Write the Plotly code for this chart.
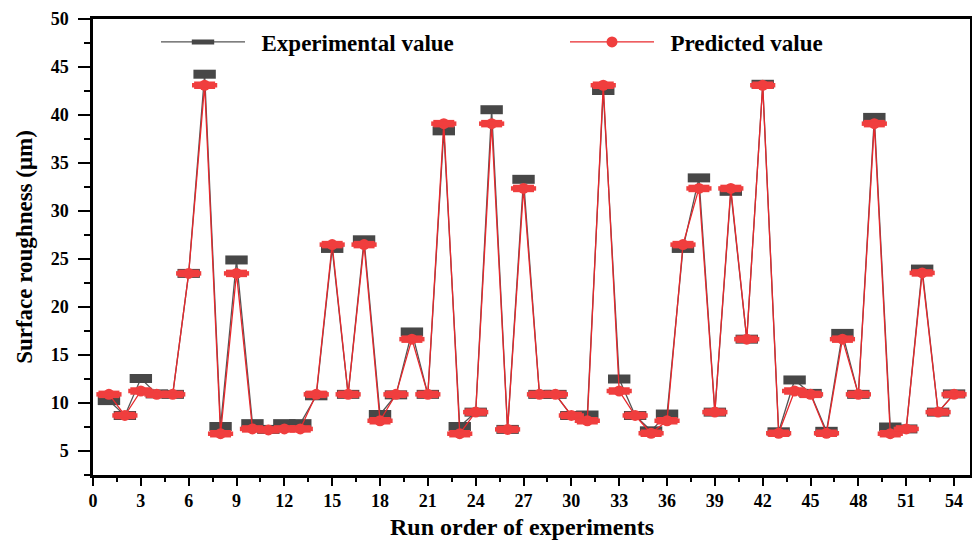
import plotly.graph_objects as go

run_order = list(range(1, 55))
experimental = [10.25, 8.7, 12.55, 10.95, 10.9, 23.5, 44.25, 7.55, 24.9, 7.85,
                7.25, 7.85, 7.85, 10.75, 26.1, 10.9, 27.0, 8.8, 10.85, 17.4,
                10.9, 38.35, 7.55, 9.05, 40.55, 7.25, 33.3, 10.9, 10.9, 8.7,
                8.75, 42.55, 12.5, 8.7, 7.1, 8.85, 26.1, 33.45, 9.05, 32.05,
                16.65, 43.2, 7.0, 12.4, 11.0, 7.05, 17.25, 10.9, 39.75, 7.5,
                7.3, 23.95, 9.05, 10.95]
predicted = [10.9, 8.7, 11.25, 10.9, 10.9, 23.5, 43.1, 6.8, 23.5, 7.3,
             7.2, 7.3, 7.3, 10.9, 26.5, 10.9, 26.5, 8.15, 10.9, 16.65,
             10.9, 39.1, 6.8, 9.05, 39.1, 7.25, 32.35, 10.9, 10.9, 8.7,
             8.15, 43.1, 11.25, 8.7, 6.85, 8.15, 26.5, 32.35, 9.05, 32.35,
             16.65, 43.1, 6.85, 11.25, 10.9, 6.85, 16.65, 10.9, 39.1, 6.8,
             7.3, 23.55, 9.05, 10.9]
x_ticks = list(range(0, 55, 3))
y_ticks = list(range(5, 51, 5))
x_title = "Run order of experiments"
y_title = "Surface roughness (μm)"

GRAY_M = "#474747"
GRAY_L = "#555555"
RED_M = "#F03E3E"
RED_L = "#E8282C"
FONT = "Liberation Serif"

fig = go.Figure()
fig.add_trace(go.Scatter(
    x=run_order, y=experimental, mode="lines+markers", name="  Experimental value",
    line=dict(color=GRAY_L, width=1.3),
    marker=dict(symbol="line-ew", size=16, color=GRAY_M,
                line=dict(color=GRAY_M, width=9)),
    legend="legend"))
fig.add_trace(go.Scatter(
    x=run_order, y=predicted, mode="lines+markers", name="  Predicted value",
    line=dict(color=RED_L, width=1.3),
    marker=dict(symbol="circle", size=11, color=RED_M, line=dict(width=0)),
    legend="legend2"))
# ellipse "ears" for predicted markers
for sz, lw in [(15, 7.5), (18, 4.5)]:
    fig.add_trace(go.Scatter(
        x=run_order, y=predicted, mode="markers", showlegend=False, hoverinfo="skip",
        marker=dict(symbol="line-ew", size=sz, color=RED_M,
                    line=dict(color=RED_M, width=lw))))

axis_common = dict(showline=True, linecolor="black", linewidth=2.5, mirror=True,
                   ticks="outside", tickcolor="black", tickwidth=2,
                   showgrid=False, zeroline=False,
                   tickfont=dict(family=FONT, size=18, color="black", weight="bold"))

legend_font = dict(family=FONT, size=23, color="black", weight="bold")
leg_y = (475 - 42) / 456

fig.update_layout(
    width=972, height=540,
    margin=dict(l=93, r=2, t=19, b=65, autoexpand=False),
    plot_bgcolor="white", paper_bgcolor="white",
    font=dict(family=FONT, color="black"),
    xaxis=dict(range=[0, 55], tickvals=x_ticks, ticklen=8,
               minor=dict(dtick=1.5, tick0=0, ticks="outside", ticklen=4,
                          tickcolor="black", tickwidth=2),
               **axis_common),
    yaxis=dict(range=[2.5, 50], tickvals=y_ticks, ticklen=12, ticklabelstandoff=6,
               minor=dict(dtick=2.5, tick0=0, ticks="outside", ticklen=6,
                          tickcolor="black", tickwidth=2),
               title=dict(text=y_title, standoff=12,
                          font=dict(family=FONT, size=23, color="black", weight="bold")),
               **axis_common),
    legend=dict(x=(156 - 93) / 877, y=leg_y, xanchor="left", yanchor="middle",
                itemwidth=84, bgcolor="rgba(0,0,0,0)", font=legend_font),
    legend2=dict(x=(565 - 93) / 877, y=leg_y, xanchor="left", yanchor="middle",
                 itemwidth=84, bgcolor="rgba(0,0,0,0)", font=legend_font),
    annotations=[dict(text=x_title, xref="paper", yref="paper",
                      x=(522 - 93) / 877, y=(475 - 527) / 456,
                      xanchor="center", yanchor="middle", showarrow=False,
                      font=dict(family=FONT, size=24, color="black", weight="bold"))],
    showlegend=True,
)

fig.write_html("out.html")
